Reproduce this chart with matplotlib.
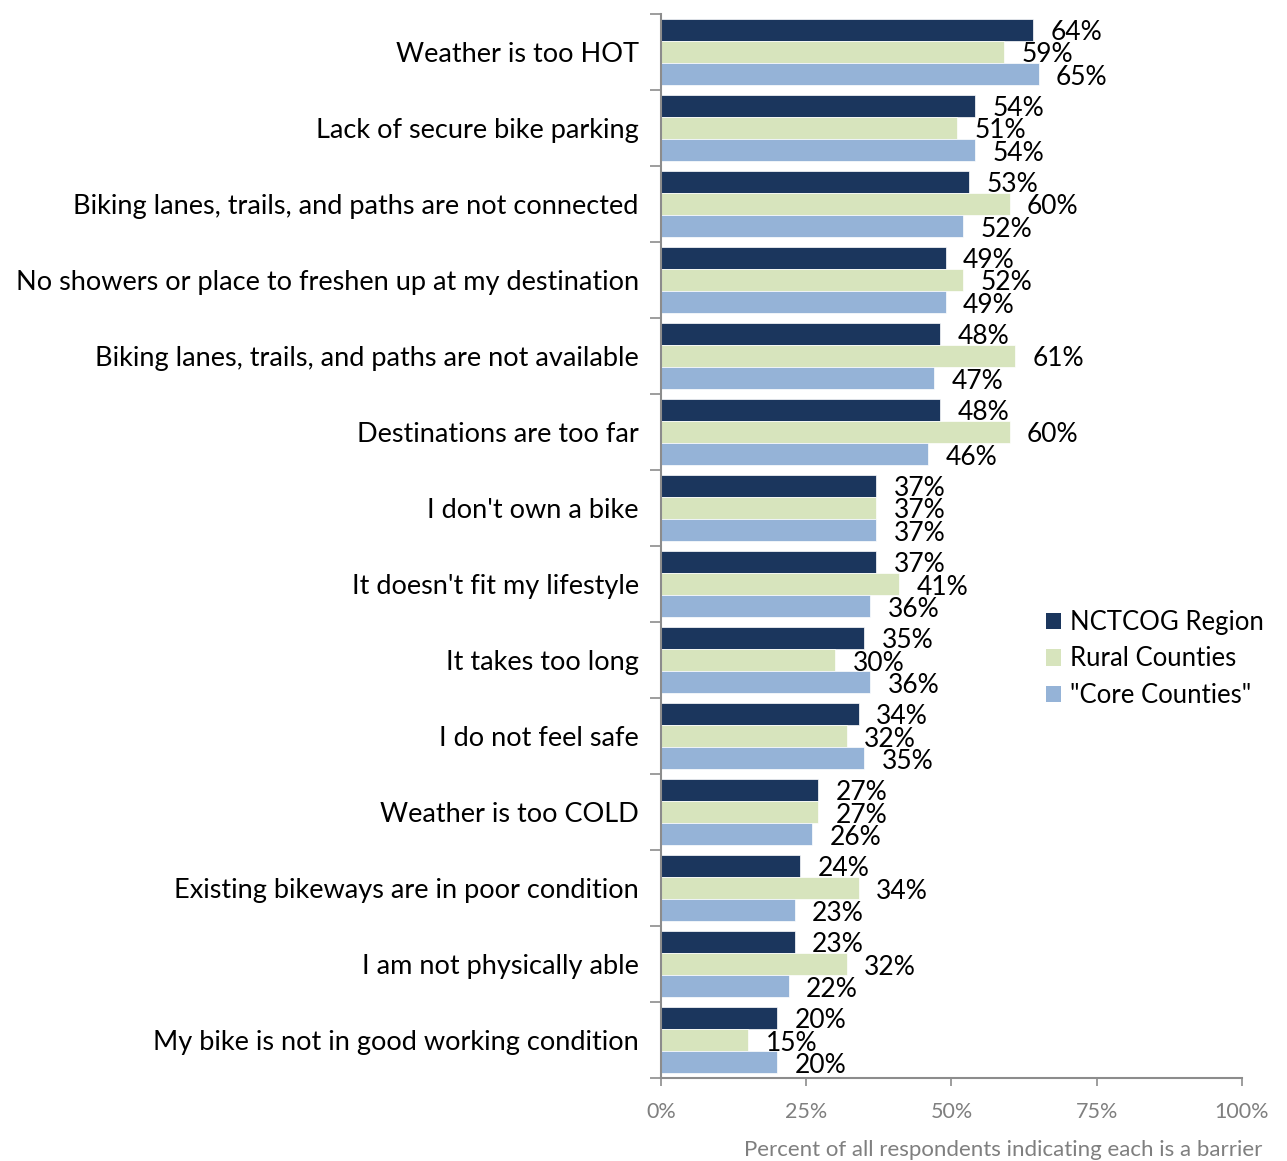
import matplotlib
matplotlib.use("Agg")
import matplotlib.pyplot as plt
import numpy as np
from matplotlib.patches import Patch

categories = [
    "Weather is too HOT",
    "Lack of secure bike parking",
    "Biking lanes, trails, and paths are not connected",
    "No showers or place to freshen up at my destination",
    "Biking lanes, trails, and paths are not available",
    "Destinations are too far",
    "I don't own a bike",
    "It doesn't fit my lifestyle",
    "It takes too long",
    "I do not feel safe",
    "Weather is too COLD",
    "Existing bikeways are in poor condition",
    "I am not physically able",
    "My bike is not in good working condition",
]
series_names = ["NCTCOG Region", "Rural Counties", "\"Core Counties\""]
nctcog = [64, 54, 53, 49, 48, 48, 37, 37, 35, 34, 27, 24, 23, 20]
rural = [59, 51, 60, 52, 61, 60, 37, 41, 30, 32, 27, 34, 32, 15]
core = [65, 54, 52, 49, 47, 46, 37, 36, 36, 35, 26, 23, 22, 20]
x_ticks = [0, 25, 50, 75, 100]
x_label = "Percent of all respondents indicating each is a barrier"

colors = ["#1B365D", "#D7E4BD", "#95B3D7"]
FONT = "Lato"
plt.rcParams["font.family"] = [FONT, "DejaVu Sans"]

fig = plt.figure(figsize=(12.87, 11.61), dpi=100)
ax = fig.add_axes([0.5136, 0.0715, 0.9650 - 0.5136, 0.988 - 0.0715])

n = len(categories)
bh = 0.29
y = np.arange(n)
for k, (vals, col) in enumerate(zip([nctcog, rural, core], colors)):
    yy = y - bh + k * bh
    ax.barh(yy, vals, height=bh, color=col, edgecolor="white", linewidth=0.5)
    for yi, v in zip(yy, vals):
        ax.text(v + 3.0, yi + 0.04, f"{v}%", ha="left", va="center",
                fontsize=19, color="black")

ax.set_xlim(0, 100)
ax.set_ylim(n - 0.5, -0.5)
ax.set_yticks(y)
ax.set_yticklabels(categories, fontsize=19.5)
ax.tick_params(axis="y", which="major", length=0, pad=16)
ax.set_yticks(np.arange(n + 1) - 0.5, minor=True)
ax.tick_params(axis="y", which="minor", length=8, width=1.2, color="#8c8c8c", direction="out")

ax.set_xticks(x_ticks)
ax.set_xticklabels([f"{t}%" for t in x_ticks], fontsize=15.5, color="#7f7f7f")
ax.tick_params(axis="x", length=6, width=1.2, color="#8c8c8c", pad=11)

for s in ["top", "right"]:
    ax.spines[s].set_visible(False)
for s in ["left", "bottom"]:
    ax.spines[s].set_color("#8c8c8c")
    ax.spines[s].set_linewidth(1.5)

fig.text(1262 / 1287, 1 - 1150 / 1161, x_label, ha="right", va="center",
         fontsize=16, color="#7f7f7f")

handles = [Patch(facecolor=c, edgecolor="none") for c in colors]
fig.legend(handles, series_names, loc="center left",
           bbox_to_anchor=(1046 / 1287, 1 - 659 / 1161),
           frameon=False, fontsize=18.5, handlelength=0.6, handleheight=0.6,
           handletextpad=0.35, labelspacing=0.45, borderaxespad=0, borderpad=0)

fig.savefig("out.png", dpi=100)
